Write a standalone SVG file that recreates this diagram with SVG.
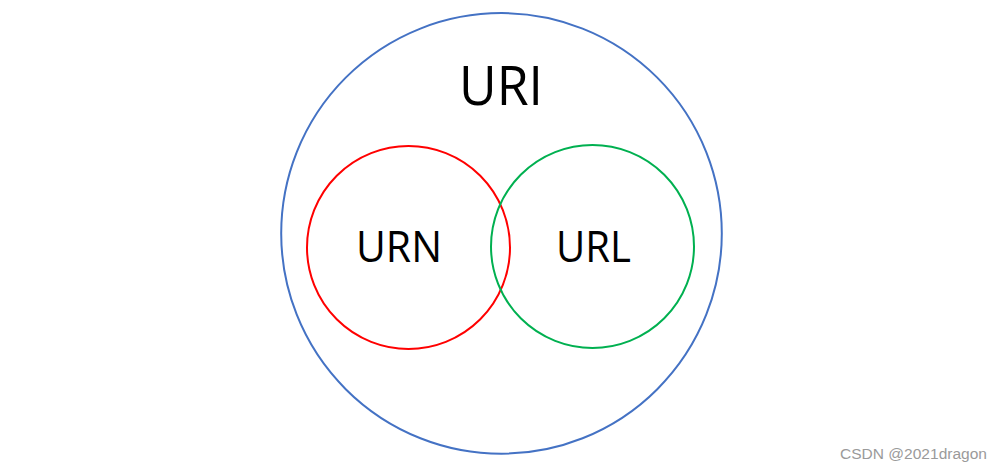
<svg xmlns="http://www.w3.org/2000/svg" width="1002" height="472" viewBox="0 0 1002 472">
<style>
.c{fill:none;stroke-width:2}
.t{font-family:"Open Sans","Noto Sans",sans-serif;fill:#000;text-anchor:middle}
.wm{font-family:"Liberation Sans",Arial,sans-serif;font-size:14px;fill:#9a9a9a}
</style>
<rect width="1002" height="472" fill="#fff"/>
<g id="uri">
<circle class="c" cx="501.5" cy="233.4" r="220.3" stroke="#4472C4"/>
<text class="t" x="501" y="105" font-size="54" textLength="84" lengthAdjust="spacingAndGlyphs">URI</text>
</g>
<g id="urn">
<circle class="c" cx="408.5" cy="247.5" r="101.5" stroke="#FF0000"/>
<text class="t" x="399" y="262" font-size="43" textLength="86" lengthAdjust="spacingAndGlyphs">URN</text>
</g>
<g id="url">
<circle class="c" cx="592.5" cy="246.5" r="101.5" stroke="#00B050"/>
<text class="t" x="593.5" y="262" font-size="43" textLength="75" lengthAdjust="spacingAndGlyphs">URL</text>
</g>
<g id="connectors"/>
<text class="wm" x="840" y="459" textLength="147" lengthAdjust="spacingAndGlyphs">CSDN @2021dragon</text>
</svg>
